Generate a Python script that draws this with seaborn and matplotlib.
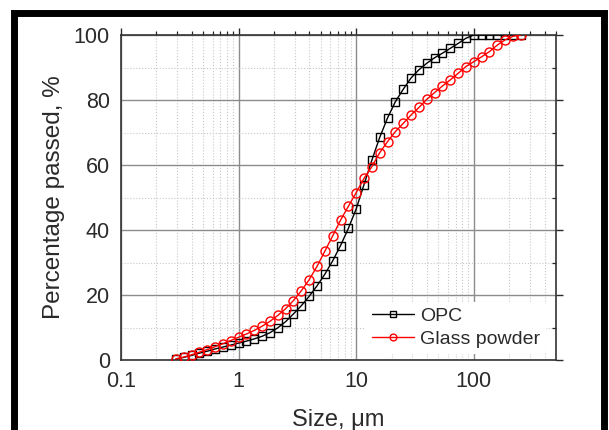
import matplotlib
matplotlib.use("Agg")
import matplotlib.pyplot as plt
import matplotlib.ticker as mticker
from matplotlib.patches import Rectangle
import seaborn as sns
import pandas as pd

sizes = [0.293, 0.341, 0.398, 0.464, 0.541, 0.631, 0.736, 0.858, 1.0, 1.166,
         1.359, 1.585, 1.848, 2.154, 2.512, 2.929, 3.415, 3.981, 4.642, 5.412,
         6.310, 7.356, 8.577, 10.0, 11.66, 13.59, 15.85, 18.48, 21.54, 25.12,
         29.29, 34.15, 39.81, 46.42, 54.12, 63.10, 73.56, 85.77, 100.0, 116.6,
         135.9, 158.5, 184.8, 215.4, 251.2]

opc = [0.3, 0.8, 1.4, 2.1, 2.7, 3.4, 4.0, 4.6, 5.2, 5.8,
       6.5, 7.3, 8.4, 9.9, 11.8, 14.2, 16.7, 19.6, 22.8, 26.4,
       30.5, 35.2, 40.5, 46.5, 54.0, 61.5, 68.5, 74.5, 79.5, 83.3,
       86.8, 89.3, 91.3, 93.0, 94.4, 95.9, 97.4, 99.0, 100.0, 100.0,
       100.0, 100.0, 100.0, 100.0, 100.0]

glass = [0.3, 0.9, 1.6, 2.4, 3.2, 4.1, 5.0, 6.0, 7.0, 8.0,
         9.1, 10.4, 11.9, 13.7, 15.8, 18.3, 21.3, 24.7, 28.8, 33.5,
         38.2, 43.0, 47.3, 51.5, 55.9, 59.5, 63.8, 67.2, 70.3, 72.8,
         75.4, 77.7, 80.2, 82.3, 84.3, 86.2, 88.2, 90.3, 91.8, 93.3,
         94.9, 96.9, 98.5, 99.6, 100.0]

series_names = ["OPC", "Glass powder"]
x_ticks = [0.1, 1, 10, 100]
x_tick_labels = ["0.1", "1", "10", "100"]
y_ticks = [0, 20, 40, 60, 80, 100]

sns.set_theme(style="white")
plt.rcParams['font.family'] = ['Liberation Sans', 'DejaVu Sans']

fig = plt.figure(figsize=(6.09, 4.30), dpi=100)
ax = fig.add_axes([121/609, 1-360/430, (556-121)/609, (360-35)/430])

df_opc = pd.DataFrame({"size": sizes, "passed": opc})
df_glass = pd.DataFrame({"size": sizes, "passed": glass})

sns.lineplot(data=df_opc, x="size", y="passed", ax=ax, color="black",
             marker="s", markersize=5.5, markerfacecolor="none",
             markeredgecolor="black", markeredgewidth=1.0, linewidth=1.0,
             label=series_names[0], zorder=3)
sns.lineplot(data=df_glass, x="size", y="passed", ax=ax, color="#ff0000",
             marker="o", markersize=6.5, markerfacecolor="none",
             markeredgecolor="#ff0000", markeredgewidth=1.0, linewidth=1.0,
             label=series_names[1], zorder=4)

ax.set_xscale("log")
ax.set_xlim(0.1, 500)
ax.set_ylim(0, 100)
ax.set_xticks(x_ticks)
ax.set_xticklabels(x_tick_labels)
ax.xaxis.set_minor_locator(mticker.LogLocator(base=10, subs=range(2, 10)))
ax.xaxis.set_minor_formatter(mticker.NullFormatter())
ax.set_yticks(y_ticks)
ax.yaxis.set_minor_locator(mticker.MultipleLocator(10))

ax.grid(which="major", color="#8c8c8c", linewidth=1.0, linestyle="-")
ax.grid(which="minor", color="#c8c8c8", linewidth=0.8, linestyle=":")
ax.set_axisbelow(True)

for s in ax.spines.values():
    s.set_color("#333333")
    s.set_linewidth(1.2)

ax.tick_params(axis="both", which="major", labelsize=15.5, colors="#2a2a2a",
               length=5, width=1.0, pad=3)
ax.tick_params(axis="x", which="major", direction="out", top=True)
ax.tick_params(axis="x", which="minor", direction="out", length=3, width=0.9, top=True)
ax.tick_params(axis="y", which="major", direction="out", right=True)
ax.tick_params(axis="y", which="minor", direction="in", length=3, width=0.9, right=True)

ax.set_xlabel("Size, μm", fontsize=17, color="#2a2a2a", labelpad=12)
ax.set_ylabel("Percentage passed, %", fontsize=17.5, color="#2a2a2a", labelpad=6)

leg = ax.legend(loc="lower right", bbox_to_anchor=(1.0, -0.01), fontsize=14,
                frameon=True, facecolor="white", edgecolor="none", framealpha=1,
                handlelength=2.2, handletextpad=0.3, borderpad=0.3,
                labelspacing=0.25, markerscale=0.75)
for t in leg.get_texts():
    t.set_color("#2a2a2a")

# black frame around the figure
fig.patches.append(Rectangle((14.0/609, -0.05), (604-14.0)/609, 1.05 - 12.5/430,
                             transform=fig.transFigure, fill=False,
                             edgecolor="black", linewidth=5, zorder=10))

fig.savefig("out.png", dpi=100)
